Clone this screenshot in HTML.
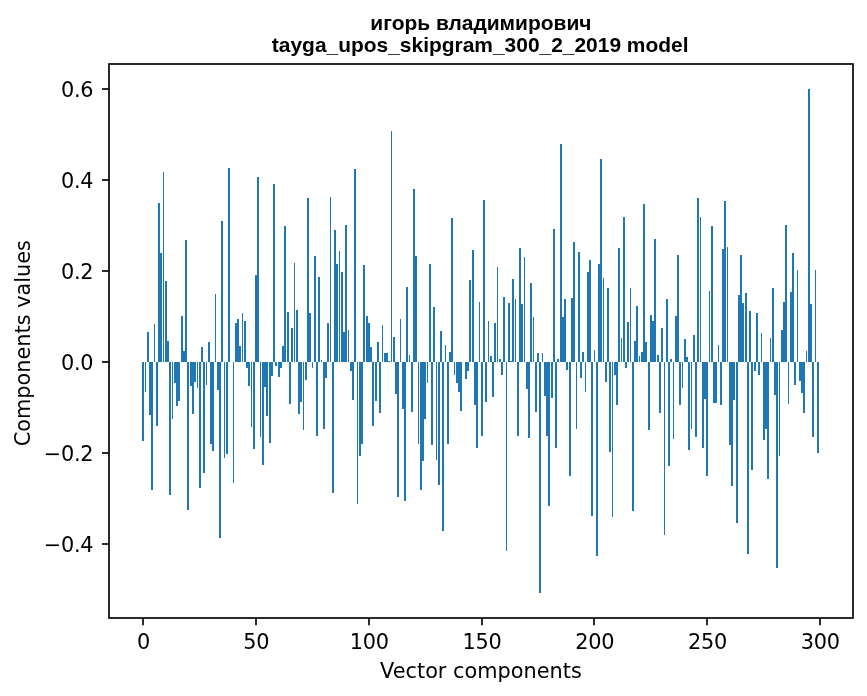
<!DOCTYPE html>
<html><head><meta charset="utf-8"><title>chart</title>
<style>html,body{margin:0;padding:0;background:#fff;overflow:hidden}svg{display:block;will-change:transform}text{font-family:"DejaVu Sans","Liberation Sans",sans-serif;font-size:20.83px;fill:#000}.t{font-family:"Liberation Sans",sans-serif;font-weight:bold;font-size:20.95px}</style></head><body>
<svg width="867" height="696" viewBox="0 0 867 696">
<rect x="0" y="0" width="867" height="696" fill="#fff"/>
<g fill="#1f77b4" shape-rendering="crispEdges">
<rect x="142" y="362" width="2" height="79"/><rect x="145" y="362" width="1" height="30"/><rect x="147" y="332" width="2" height="30"/><rect x="149" y="362" width="2" height="53"/><rect x="151" y="362" width="2" height="128"/><rect x="154" y="324" width="1" height="38"/><rect x="156" y="362" width="2" height="64"/><rect x="158" y="203" width="2" height="159"/><rect x="160" y="253" width="2" height="109"/><rect x="163" y="172" width="1" height="190"/><rect x="165" y="281" width="2" height="81"/><rect x="167" y="341" width="2" height="21"/><rect x="169" y="362" width="2" height="133"/><rect x="172" y="362" width="1" height="57"/><rect x="174" y="362" width="2" height="21"/><rect x="176" y="362" width="2" height="44"/><rect x="178" y="362" width="2" height="39"/><rect x="181" y="316" width="2" height="46"/><rect x="183" y="351" width="2" height="11"/><rect x="185" y="240" width="2" height="122"/><rect x="187" y="362" width="2" height="148"/><rect x="190" y="362" width="2" height="24"/><rect x="192" y="362" width="2" height="52"/><rect x="194" y="362" width="2" height="20"/><rect x="197" y="362" width="1" height="26"/><rect x="199" y="362" width="2" height="126"/><rect x="201" y="347" width="2" height="15"/><rect x="203" y="362" width="2" height="111"/><rect x="206" y="362" width="1" height="23"/><rect x="208" y="342" width="2" height="20"/><rect x="210" y="362" width="2" height="82"/><rect x="212" y="362" width="2" height="89"/><rect x="215" y="294" width="1" height="68"/><rect x="217" y="362" width="2" height="28"/><rect x="219" y="362" width="2" height="176"/><rect x="221" y="221" width="2" height="141"/><rect x="224" y="362" width="1" height="96"/><rect x="226" y="362" width="2" height="92"/><rect x="228" y="168" width="2" height="194"/><rect x="233" y="362" width="1" height="121"/><rect x="235" y="323" width="2" height="39"/><rect x="237" y="319" width="2" height="43"/><rect x="239" y="346" width="2" height="16"/><rect x="242" y="313" width="1" height="49"/><rect x="244" y="321" width="2" height="41"/><rect x="246" y="362" width="2" height="6"/><rect x="248" y="362" width="2" height="24"/><rect x="251" y="362" width="1" height="65"/><rect x="253" y="362" width="2" height="87"/><rect x="255" y="275" width="2" height="87"/><rect x="257" y="177" width="2" height="185"/><rect x="260" y="362" width="1" height="75"/><rect x="262" y="362" width="2" height="103"/><rect x="264" y="362" width="2" height="25"/><rect x="266" y="362" width="2" height="54"/><rect x="269" y="362" width="2" height="81"/><rect x="271" y="362" width="2" height="14"/><rect x="273" y="184" width="2" height="178"/><rect x="275" y="362" width="2" height="4"/><rect x="278" y="362" width="2" height="15"/><rect x="280" y="362" width="2" height="6"/><rect x="282" y="346" width="2" height="16"/><rect x="284" y="226" width="2" height="136"/><rect x="287" y="312" width="2" height="50"/><rect x="289" y="362" width="2" height="42"/><rect x="291" y="328" width="2" height="34"/><rect x="294" y="263" width="1" height="99"/><rect x="296" y="310" width="2" height="52"/><rect x="298" y="362" width="2" height="52"/><rect x="300" y="362" width="2" height="40"/><rect x="303" y="362" width="1" height="68"/><rect x="305" y="362" width="2" height="18"/><rect x="307" y="198" width="2" height="164"/><rect x="309" y="313" width="2" height="49"/><rect x="312" y="362" width="1" height="6"/><rect x="314" y="256" width="2" height="106"/><rect x="316" y="362" width="2" height="74"/><rect x="318" y="277" width="2" height="85"/><rect x="321" y="360" width="1" height="2"/><rect x="323" y="362" width="2" height="67"/><rect x="325" y="362" width="2" height="16"/><rect x="327" y="323" width="2" height="39"/><rect x="330" y="197" width="1" height="165"/><rect x="332" y="362" width="2" height="131"/><rect x="334" y="230" width="2" height="132"/><rect x="336" y="264" width="2" height="98"/><rect x="339" y="251" width="1" height="111"/><rect x="341" y="272" width="2" height="90"/><rect x="343" y="332" width="2" height="30"/><rect x="345" y="225" width="2" height="137"/><rect x="348" y="330" width="1" height="32"/><rect x="350" y="362" width="2" height="9"/><rect x="352" y="362" width="2" height="38"/><rect x="354" y="169" width="2" height="193"/><rect x="357" y="362" width="1" height="142"/><rect x="359" y="362" width="2" height="94"/><rect x="361" y="362" width="2" height="82"/><rect x="363" y="265" width="2" height="97"/><rect x="366" y="316" width="2" height="46"/><rect x="368" y="323" width="2" height="39"/><rect x="370" y="347" width="2" height="15"/><rect x="372" y="362" width="2" height="64"/><rect x="375" y="362" width="2" height="39"/><rect x="377" y="342" width="2" height="20"/><rect x="379" y="362" width="2" height="51"/><rect x="382" y="325" width="1" height="37"/><rect x="384" y="353" width="2" height="9"/><rect x="386" y="353" width="2" height="9"/><rect x="388" y="361" width="2" height="1"/><rect x="391" y="131" width="1" height="231"/><rect x="393" y="337" width="2" height="25"/><rect x="395" y="362" width="2" height="32"/><rect x="397" y="362" width="2" height="135"/><rect x="400" y="319" width="1" height="43"/><rect x="402" y="362" width="2" height="47"/><rect x="404" y="362" width="2" height="139"/><rect x="406" y="287" width="2" height="75"/><rect x="409" y="355" width="1" height="7"/><rect x="411" y="362" width="2" height="50"/><rect x="413" y="189" width="2" height="173"/><rect x="415" y="256" width="2" height="106"/><rect x="418" y="362" width="1" height="82"/><rect x="420" y="362" width="2" height="128"/><rect x="422" y="362" width="2" height="99"/><rect x="424" y="362" width="2" height="57"/><rect x="427" y="362" width="1" height="21"/><rect x="429" y="264" width="2" height="98"/><rect x="431" y="362" width="2" height="83"/><rect x="433" y="307" width="2" height="55"/><rect x="436" y="362" width="1" height="98"/><rect x="438" y="362" width="2" height="123"/><rect x="440" y="331" width="2" height="31"/><rect x="442" y="362" width="2" height="169"/><rect x="445" y="345" width="1" height="17"/><rect x="447" y="362" width="2" height="82"/><rect x="449" y="352" width="2" height="10"/><rect x="451" y="218" width="2" height="144"/><rect x="454" y="362" width="1" height="13"/><rect x="456" y="362" width="2" height="21"/><rect x="458" y="362" width="2" height="30"/><rect x="460" y="362" width="2" height="49"/><rect x="465" y="362" width="2" height="17"/><rect x="467" y="362" width="2" height="9"/><rect x="469" y="280" width="2" height="82"/><rect x="472" y="250" width="2" height="112"/><rect x="474" y="362" width="2" height="43"/><rect x="476" y="362" width="2" height="86"/><rect x="479" y="302" width="1" height="60"/><rect x="481" y="362" width="2" height="74"/><rect x="483" y="200" width="2" height="162"/><rect x="485" y="362" width="2" height="40"/><rect x="488" y="321" width="1" height="41"/><rect x="490" y="356" width="2" height="6"/><rect x="492" y="362" width="2" height="35"/><rect x="494" y="323" width="2" height="39"/><rect x="497" y="267" width="1" height="95"/><rect x="499" y="359" width="2" height="3"/><rect x="501" y="362" width="2" height="13"/><rect x="503" y="297" width="2" height="65"/><rect x="506" y="362" width="1" height="189"/><rect x="508" y="303" width="2" height="59"/><rect x="510" y="361" width="2" height="1"/><rect x="512" y="279" width="2" height="83"/><rect x="515" y="299" width="1" height="63"/><rect x="517" y="362" width="2" height="74"/><rect x="519" y="248" width="2" height="114"/><rect x="521" y="304" width="2" height="58"/><rect x="524" y="257" width="1" height="105"/><rect x="526" y="362" width="2" height="27"/><rect x="528" y="362" width="2" height="76"/><rect x="530" y="283" width="2" height="79"/><rect x="533" y="317" width="1" height="45"/><rect x="535" y="362" width="2" height="50"/><rect x="537" y="353" width="2" height="9"/><rect x="539" y="362" width="2" height="231"/><rect x="542" y="353" width="1" height="9"/><rect x="544" y="362" width="2" height="34"/><rect x="546" y="362" width="2" height="74"/><rect x="548" y="362" width="2" height="144"/><rect x="551" y="362" width="2" height="36"/><rect x="553" y="229" width="2" height="133"/><rect x="555" y="362" width="2" height="86"/><rect x="557" y="359" width="2" height="3"/><rect x="560" y="144" width="2" height="218"/><rect x="562" y="317" width="2" height="45"/><rect x="564" y="299" width="2" height="63"/><rect x="566" y="362" width="2" height="8"/><rect x="569" y="362" width="2" height="114"/><rect x="571" y="298" width="2" height="64"/><rect x="573" y="242" width="2" height="120"/><rect x="576" y="362" width="1" height="67"/><rect x="578" y="252" width="2" height="110"/><rect x="580" y="362" width="2" height="16"/><rect x="582" y="352" width="2" height="10"/><rect x="585" y="362" width="1" height="30"/><rect x="587" y="272" width="2" height="90"/><rect x="589" y="260" width="2" height="102"/><rect x="591" y="362" width="2" height="154"/><rect x="594" y="350" width="1" height="12"/><rect x="596" y="362" width="2" height="194"/><rect x="598" y="264" width="2" height="98"/><rect x="600" y="159" width="2" height="203"/><rect x="603" y="278" width="1" height="84"/><rect x="605" y="362" width="2" height="20"/><rect x="607" y="288" width="2" height="74"/><rect x="609" y="362" width="2" height="90"/><rect x="612" y="362" width="1" height="155"/><rect x="614" y="362" width="2" height="13"/><rect x="616" y="362" width="2" height="43"/><rect x="618" y="248" width="2" height="114"/><rect x="621" y="338" width="1" height="24"/><rect x="623" y="217" width="2" height="145"/><rect x="625" y="362" width="2" height="6"/><rect x="627" y="322" width="2" height="40"/><rect x="630" y="288" width="1" height="74"/><rect x="632" y="362" width="2" height="149"/><rect x="634" y="341" width="2" height="21"/><rect x="636" y="306" width="2" height="56"/><rect x="639" y="356" width="1" height="6"/><rect x="641" y="352" width="2" height="10"/><rect x="643" y="204" width="2" height="158"/><rect x="645" y="342" width="2" height="20"/><rect x="648" y="362" width="2" height="68"/><rect x="650" y="315" width="2" height="47"/><rect x="652" y="321" width="2" height="41"/><rect x="654" y="239" width="2" height="123"/><rect x="657" y="355" width="2" height="7"/><rect x="659" y="362" width="2" height="51"/><rect x="661" y="328" width="2" height="34"/><rect x="664" y="362" width="1" height="173"/><rect x="666" y="299" width="2" height="63"/><rect x="668" y="362" width="2" height="104"/><rect x="670" y="359" width="2" height="3"/><rect x="673" y="362" width="1" height="77"/><rect x="675" y="316" width="2" height="46"/><rect x="677" y="255" width="2" height="107"/><rect x="679" y="362" width="2" height="43"/><rect x="682" y="362" width="1" height="26"/><rect x="684" y="339" width="2" height="23"/><rect x="686" y="357" width="2" height="5"/><rect x="688" y="362" width="2" height="88"/><rect x="691" y="362" width="1" height="67"/><rect x="693" y="335" width="2" height="27"/><rect x="695" y="362" width="2" height="75"/><rect x="697" y="198" width="2" height="164"/><rect x="700" y="217" width="1" height="145"/><rect x="702" y="362" width="2" height="86"/><rect x="704" y="362" width="2" height="37"/><rect x="706" y="362" width="2" height="114"/><rect x="709" y="291" width="1" height="71"/><rect x="711" y="226" width="2" height="136"/><rect x="713" y="362" width="2" height="41"/><rect x="715" y="362" width="2" height="41"/><rect x="718" y="345" width="1" height="17"/><rect x="720" y="362" width="2" height="43"/><rect x="722" y="249" width="2" height="113"/><rect x="724" y="201" width="2" height="161"/><rect x="727" y="247" width="1" height="115"/><rect x="729" y="362" width="2" height="83"/><rect x="731" y="362" width="2" height="124"/><rect x="733" y="362" width="2" height="38"/><rect x="736" y="362" width="2" height="161"/><rect x="738" y="295" width="2" height="67"/><rect x="740" y="255" width="2" height="107"/><rect x="742" y="303" width="2" height="59"/><rect x="745" y="293" width="2" height="69"/><rect x="747" y="362" width="2" height="192"/><rect x="749" y="311" width="2" height="51"/><rect x="751" y="362" width="2" height="108"/><rect x="754" y="362" width="2" height="9"/><rect x="756" y="313" width="2" height="49"/><rect x="758" y="362" width="2" height="13"/><rect x="761" y="333" width="1" height="29"/><rect x="763" y="362" width="2" height="78"/><rect x="765" y="362" width="2" height="67"/><rect x="767" y="362" width="2" height="117"/><rect x="770" y="338" width="1" height="24"/><rect x="772" y="288" width="2" height="74"/><rect x="774" y="362" width="2" height="33"/><rect x="776" y="362" width="2" height="206"/><rect x="779" y="362" width="1" height="94"/><rect x="781" y="330" width="2" height="32"/><rect x="783" y="302" width="2" height="60"/><rect x="785" y="225" width="2" height="137"/><rect x="788" y="362" width="1" height="42"/><rect x="790" y="292" width="2" height="70"/><rect x="792" y="253" width="2" height="109"/><rect x="794" y="362" width="2" height="23"/><rect x="797" y="270" width="1" height="92"/><rect x="799" y="362" width="2" height="19"/><rect x="801" y="362" width="2" height="31"/><rect x="803" y="362" width="2" height="51"/><rect x="806" y="351" width="1" height="11"/><rect x="808" y="89" width="2" height="273"/><rect x="810" y="304" width="2" height="58"/><rect x="812" y="362" width="2" height="75"/><rect x="815" y="270" width="1" height="92"/><rect x="817" y="362" width="2" height="91"/>
</g>
<rect x="109" y="64" width="744" height="554" fill="none" stroke="#000" stroke-width="1.67" stroke-linejoin="miter"/>
<g stroke="#000" stroke-width="1.67">
<line x1="143" y1="618" x2="143" y2="625.3"/><line x1="256" y1="618" x2="256" y2="625.3"/><line x1="369" y1="618" x2="369" y2="625.3"/><line x1="482" y1="618" x2="482" y2="625.3"/><line x1="594" y1="618" x2="594" y2="625.3"/><line x1="707" y1="618" x2="707" y2="625.3"/><line x1="820" y1="618" x2="820" y2="625.3"/><line x1="102" y1="544" x2="109" y2="544"/><line x1="102" y1="453" x2="109" y2="453"/><line x1="102" y1="362" x2="109" y2="362"/><line x1="102" y1="271" x2="109" y2="271"/><line x1="102" y1="180" x2="109" y2="180"/><line x1="102" y1="89" x2="109" y2="89"/>
</g>
<g style="letter-spacing:-0.25px"><text x="143.56" y="649.30" text-anchor="middle">0</text><text x="256.36" y="649.30" text-anchor="middle">50</text><text x="369.17" y="649.30" text-anchor="middle">100</text><text x="481.97" y="649.30" text-anchor="middle">150</text><text x="594.77" y="649.30" text-anchor="middle">200</text><text x="707.57" y="649.30" text-anchor="middle">250</text><text x="820.38" y="649.30" text-anchor="middle">300</text>
</g>
<g style="letter-spacing:-0.22px"><text x="93.40" y="551.90" text-anchor="end">−0.4</text><text x="93.40" y="460.90" text-anchor="end">−0.2</text><text x="93.40" y="369.90" text-anchor="end">0.0</text><text x="93.40" y="278.90" text-anchor="end">0.2</text><text x="93.40" y="187.90" text-anchor="end">0.4</text><text x="93.40" y="96.90" text-anchor="end">0.6</text>
</g>
<text x="480.9" y="678" text-anchor="middle">Vector components</text>
<text transform="translate(30,343.2) rotate(-90)" text-anchor="middle">Components values</text>
<text class="t" x="480.9" y="29.5" text-anchor="middle">игорь владимирович</text>
<text class="t" x="480.2" y="51.5" text-anchor="middle">tayga_upos_skipgram_300_2_2019 model</text>
</svg>
</body></html>
